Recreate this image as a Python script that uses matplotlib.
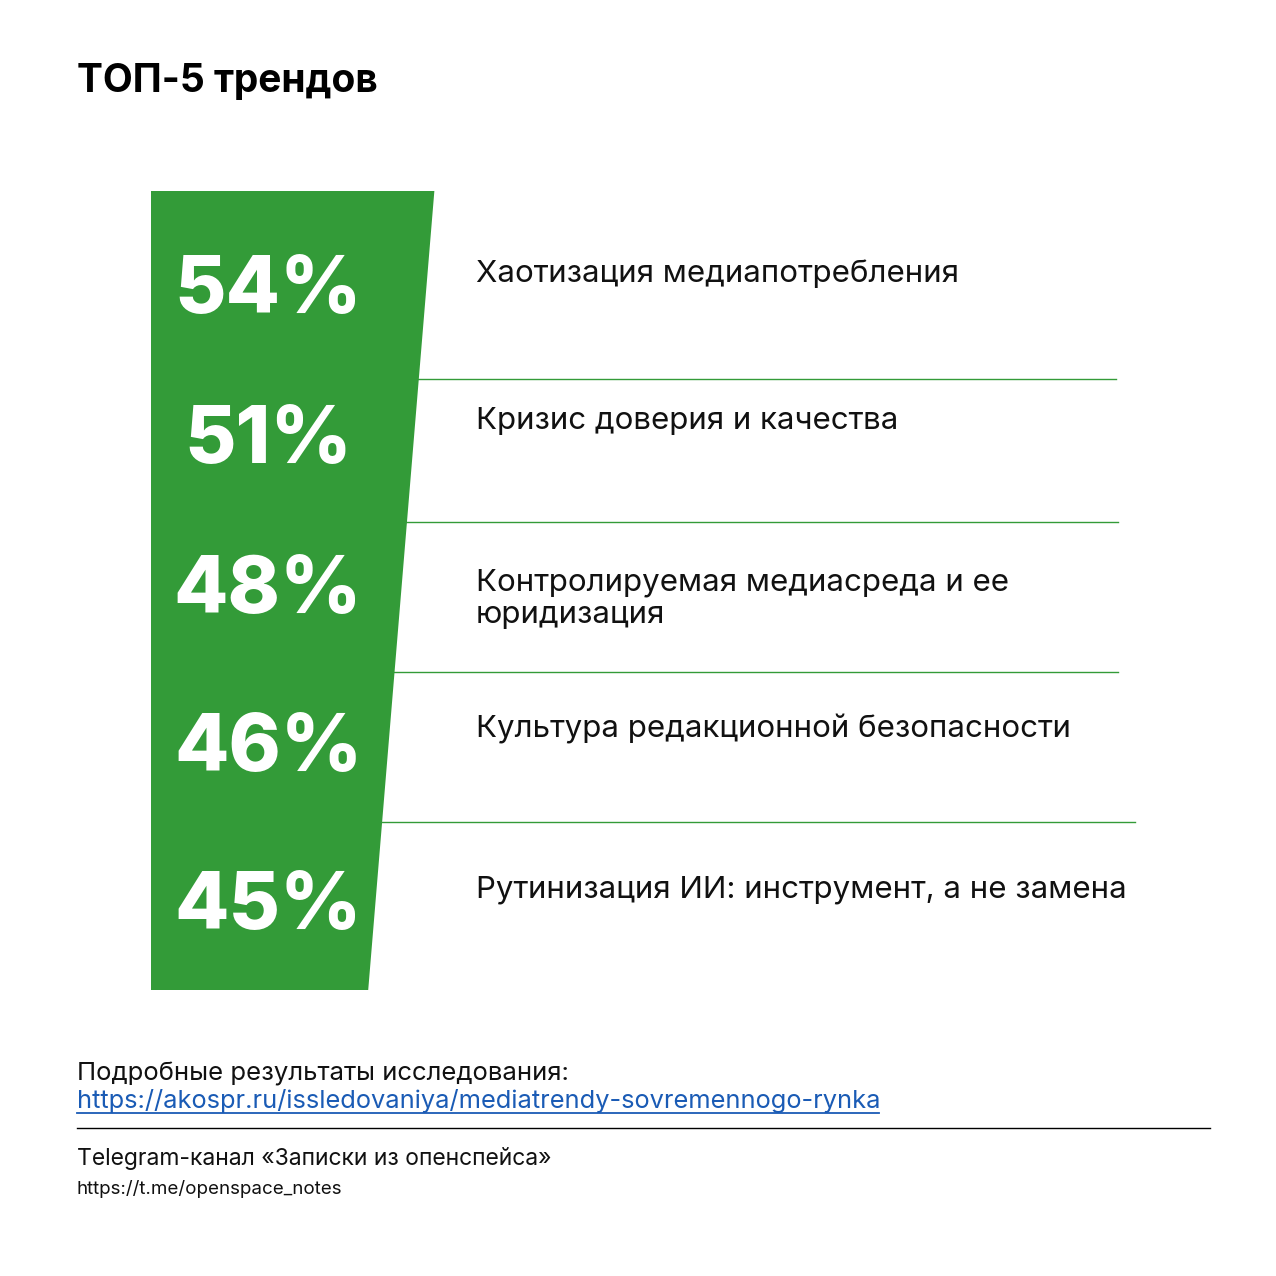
import matplotlib
matplotlib.use("Agg")
import matplotlib.pyplot as plt
from matplotlib.patches import Polygon

values = [54, 51, 48, 46, 45]
labels = ["Хаотизация медиапотребления", "Кризис доверия и качества",
          "Контролируемая медиасреда и ее\nюридизация", "Культура редакционной безопасности",
          "Рутинизация ИИ: инструмент, а не замена"]
pct_y = [292, 442, 592, 750, 908]
lab_y = [274, 421, 599, 729, 890]
sep_y = [379, 522, 672, 822]
sep_x2 = [1116, 1118, 1118, 1135]

GREEN = "#339B38"
FONT = ["Inter", "DejaVu Sans"]

fig = plt.figure(figsize=(12.76, 12.76), dpi=100)
ax = fig.add_axes([0, 0, 1, 1])
ax.set_xlim(0, 1276); ax.set_ylim(1276, 0); ax.axis("off")

def edge(v):
    return 375 + (v - 45) / (54 - 45) * (426 - 375)
def edge_y(y):
    x0, x1 = edge(values[0]), edge(values[-1])
    return x0 + (y - pct_y[0]) * (x1 - x0) / (pct_y[-1] - pct_y[0])

top, bot = 191, 990
ax.add_patch(Polygon([(151, top), (edge_y(top), top), (edge_y(bot), bot), (151, bot)],
                     closed=True, color=GREEN, lw=0))

for v, y in zip(values, pct_y):
    ax.text(268, y, f"{v}%", color="white", fontsize=57, fontweight="heavy",
            family=FONT, ha="center", va="center")
for t, y in zip(labels, lab_y):
    ax.text(476, y, t, fontsize=22.5, family=FONT, ha="left", va="center",
            color="#111111", linespacing=1.2)
for y, x2 in zip(sep_y, sep_x2):
    ax.plot([edge_y(y) - 6, x2], [y, y], color=GREEN, lw=1)

ax.text(77, 82, "ТОП-5 трендов", fontsize=28, fontweight="bold", family=FONT,
        ha="left", va="center", color="black")
ax.text(77, 1074, "Подробные результаты исследования:", fontsize=18.5, family=FONT,
        ha="left", va="center", color="#111111")
ax.text(77, 1101, "https://akospr.ru/issledovaniya/mediatrendy-sovremennogo-rynka",
        fontsize=18.3, family=FONT, ha="left", va="center", color="#1a5bb5")
ax.plot([77, 879], [1113, 1113], color="#1a5bb5", lw=1.3)
ax.plot([77, 1210], [1128, 1128], color="black", lw=1)
ax.text(77, 1159, "Telegram-канал «Записки из опенспейса»", fontsize=16.5, family=FONT,
        ha="left", va="center", color="#111111")
ax.text(77, 1189, "https://t.me/openspace_notes", fontsize=13.5, family=FONT,
        ha="left", va="center", color="#111111")

fig.savefig("out.png", dpi=100, facecolor="white")
